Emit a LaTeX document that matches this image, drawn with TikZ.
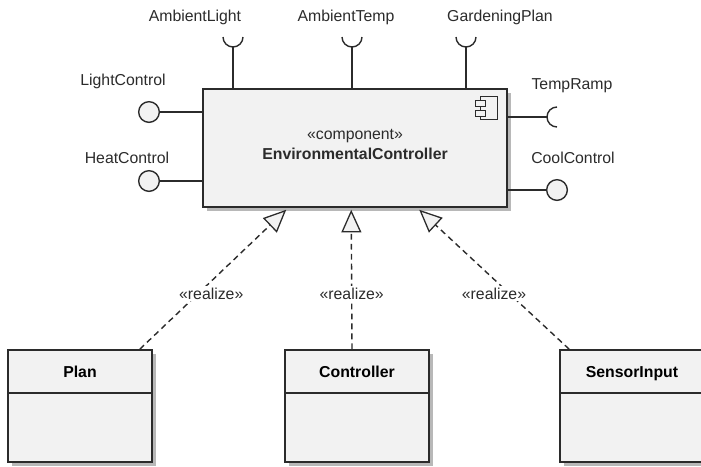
\documentclass[tikz,border=0pt]{standalone}
\usepackage{fontspec}
\setmainfont{Liberation Sans}
\usetikzlibrary{arrows.meta,positioning,calc,shadows}
\definecolor{umlline}{HTML}{2B2B2B}
\definecolor{umlfill}{HTML}{F2F2F2}
\definecolor{umlshade}{HTML}{B8B8B8}
\tikzset{
  umlshadow/.style={general shadow={fill=umlshade,shadow xshift=3.5pt,shadow yshift=-3.5pt}},
  compbox/.style={draw=umlline,fill=umlfill,line width=1.3pt,umlshadow},
  clsbox/.style={draw=umlline,fill=umlfill,line width=1.3pt,umlshadow,minimum width=4.32cm,inner sep=0pt},
  clshead/.style={clsbox,minimum height=1.29cm,text height=1.1em,text depth=0em},
  lolli/.style={circle,draw=umlline,fill=umlfill,line width=1.2pt,minimum size=0.62cm,inner sep=0pt},
  iface/.style={draw=umlline,line width=1.2pt},
  ifacelbl/.style={text=umlline,inner sep=1pt},
  realize/.style={draw=umlline,line width=1.2pt,dash pattern=on 5pt off 3.5pt,
    -{Triangle[length=0.68cm,width=0.6cm,fill=umlfill,line width=1.1pt]}},
  rlbl/.style={fill=white,text=umlline,inner sep=1.5pt}
}
\begin{document}
\begin{tikzpicture}[x=0.03cm,y=-0.03cm,font=\fontsize{13.5}{16.5}\selectfont]
\useasboundingbox (0,0) rectangle (701,466);
% component
\node[compbox,minimum width=9.12cm,minimum height=3.54cm] (ec) at (355,148) {};
\node[align=center,text=umlline] (ectxt) at (355,144.5) {«component»\\\textbf{EnvironmentalController}};
\draw[iface,line width=0.9pt,fill=umlfill] ($(ec.north east)+(-27,8)$) rectangle ($(ec.north east)+(-10,31)$);
\draw[iface,line width=0.9pt,fill=umlfill] ($(ec.north east)+(-32,12)$) rectangle ($(ec.north east)+(-22,18)$);
\draw[iface,line width=0.9pt,fill=umlfill] ($(ec.north east)+(-32,22)$) rectangle ($(ec.north east)+(-22,28)$);
% required interfaces on top
\coordinate (al) at (233,47);
\coordinate (atmp) at (352,47);
\coordinate (gp) at (466,47);
\foreach \s in {al,atmp,gp}{
  \draw[iface] (\s |- ec.north) -- (\s);
  \draw[iface] ($(\s)+(-10,-10)$) arc[start angle=180,end angle=0,radius=10];
}
\node[ifacelbl] (allbl) at (195,17) {AmbientLight};
\node[ifacelbl] (atmplbl) at (346,17) {AmbientTemp};
\node[ifacelbl] (gplbl) at (500,17) {GardeningPlan};
% provided interfaces
\node[lolli] (lc) at (149,112) {};
\node[lolli] (hc) at (149,181) {};
\node[lolli] (cc) at (557,190) {};
\draw[iface] (lc) -- (lc -| ec.west);
\draw[iface] (hc) -- (hc -| ec.west);
\draw[iface] (cc) -- (cc -| ec.east);
\node[ifacelbl] (lclbl) at (123,81) {LightControl};
\node[ifacelbl] (hclbl) at (127,158) {HeatControl};
\node[ifacelbl] (cclbl) at (573,158) {CoolControl};
% required interface on the right
\coordinate (tr) at (547,117);
\draw[iface] (tr -| ec.east) -- (tr);
\draw[iface] ($(tr)+(10,-10)$) arc[start angle=270,end angle=90,radius=10];
\node[ifacelbl] (trlbl) at (572,86) {TempRamp};
% realizing classes
\node[clshead] (plan) at (80,371.5) {\textbf{Plan}};
\node[clsbox,minimum height=2.07cm,below=-1.3pt of plan] (planbody) {};
\node[clshead] (ctrl) at (357,371.5) {\textbf{Controller}};
\node[clsbox,minimum height=2.07cm,below=-1.3pt of ctrl] (ctrlbody) {};
\node[clshead] (sens) at (632,371.5) {\textbf{SensorInput}};
\node[clsbox,minimum height=2.07cm,below=-1.3pt of sens] (sensbody) {};
\draw[realize] ($(plan.north east)+(-13,0)$) -- ($(ec.south west)+(84,2)$)
  node[rlbl,pos=0.4,xshift=11pt] {«realize»};
\draw[realize] ($(ctrl.north)+(-5,0)$) -- ($(ec.south west)+(149,2)$)
  node[rlbl,pos=0.4] {«realize»};
\draw[realize] ($(sens.north west)+(10,0)$) -- ($(ec.south west)+(217,2)$)
  node[rlbl,pos=0.4,xshift=-13pt] {«realize»};
\end{tikzpicture}
\end{document}
